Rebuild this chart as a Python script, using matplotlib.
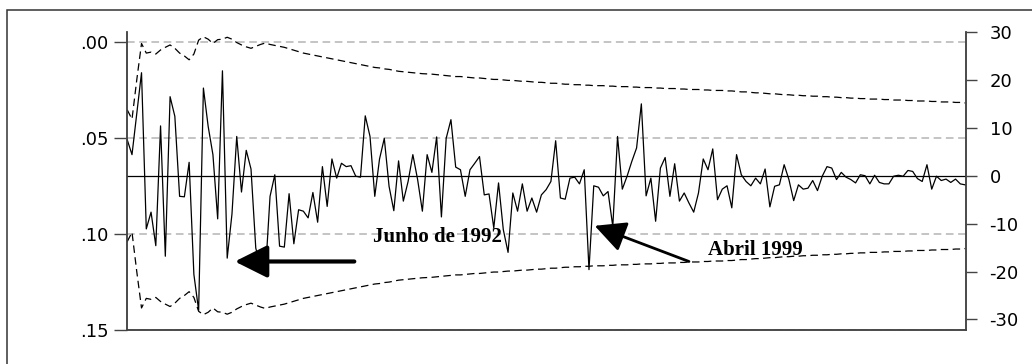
import matplotlib
matplotlib.use("Agg")
import matplotlib.pyplot as plt
from matplotlib.patches import Rectangle

# recursive residuals (right axis)
resid = [7.5, 4.4, 13.0, 21.5, -11.1, -7.6, -14.6, 10.4, -16.8, 16.5,
         12.4, -4.3, -4.4, 2.8, -20.6, -28.1, 18.3, 10.3, 4.4, -9.0,
         21.9, -17.2, -8.0, 8.2, -3.4, 5.3, 1.4, -15.1, -19.0, -20.8,
         -4.3, 0.2, -14.7, -14.9, -3.75, -14.2, -7.1, -7.4, -8.8, -3.5,
         -9.7, 1.9, -6.4, 3.5, -0.5, 2.6, 1.9, 2.1, -0.1, -0.3,
         12.5, 8.2, -4.3, 3.5, 7.8, -2.2, -7.3, 3.1, -5.3, -1.2,
         4.4, -0.8, -7.4, 4.4, 0.7, 8.1, -8.6, 7.8, 11.7, 1.8,
         1.25, -4.3, 1.25, 2.6, 4.0, -4.0, -3.8, -10.9, -1.5, -11.25,
         -16.0, -3.6, -7.4, -1.7, -7.4, -4.65, -7.6, -4.0, -2.9, -1.2,
         7.3, -4.65, -4.9, -0.5, -0.3, -1.7, 1.25, -19.6, -2.1, -2.4,
         -4.2, -3.3, -10.6, 8.2, -2.8, -0.1, 3.0, 5.8, 15.0, -4.2,
         -0.5, -9.5, 1.6, 3.8, -4.3, 2.5, -5.3, -3.6, -5.7, -7.6,
         -3.6, 3.5, 1.25, 5.6, -5.0, -2.8, -2.1, -6.7, 4.4, 0.2,
         -1.2, -2.1, -0.5, -1.7, 1.4, -6.5, -2.2, -1.9, 2.3, -0.8,
         -5.2, -1.9, -2.8, -2.6, -1.0, -3.1, -0.1, 1.9, 1.6, -0.8,
         0.7, -0.3, -0.8, -1.5, 0.2, 0.0, -1.7, 0.1, -1.4, -1.7,
         -1.7, -0.1, 0.1, -0.1, 1.1, 0.9, -0.6, -1.2, 2.3, -2.8,
         -0.1, -1.0, -0.7, -1.4, -0.7, -1.7, -1.9]

# +/- 2 S.E. band (upper side, lower is the mirror)
band = [13.75, 11.8, 20.0, 27.6, 25.6, 25.8, 25.4, 26.25, 26.8, 27.3,
        26.6, 25.6, 25.0, 24.2, 25.4, 28.3, 29.0, 28.5, 27.6, 28.4,
        28.5, 28.9, 28.5, 27.8, 27.3, 26.9, 26.6, 27.0, 27.4, 27.7,
        27.4, 27.2, 27.0, 26.8, 26.5, 26.2, 25.9, 25.6, 25.4, 25.2,
        25.0, 24.8, 24.6, 24.4, 24.2, 24.0, 23.8, 23.6, 23.4, 23.2,
        23.0, 22.8, 22.6, 22.5, 22.3, 22.2, 22.0, 21.8, 21.7, 21.6,
        21.5, 21.4, 21.3, 21.25, 21.2, 21.1, 21.0, 20.9, 20.8, 20.7,
        20.7, 20.6, 20.5, 20.4, 20.4, 20.3, 20.2, 20.1, 20.1, 20.0,
        19.9, 19.9, 19.8, 19.7, 19.7, 19.6, 19.5, 19.5, 19.4, 19.3,
        19.3, 19.2, 19.1, 19.1, 19.0, 19.0, 18.9, 18.9, 18.8, 18.8,
        18.8, 18.7, 18.7, 18.6, 18.6, 18.6, 18.5, 18.5, 18.4, 18.4,
        18.4, 18.3, 18.3, 18.2, 18.2, 18.2, 18.1, 18.1, 18.0, 18.0,
        18.0, 17.9, 17.9, 17.8, 17.8, 17.8, 17.7, 17.7, 17.6, 17.5,
        17.5, 17.4, 17.3, 17.3, 17.2, 17.1, 17.1, 17.0, 16.9, 16.9,
        16.8, 16.8, 16.7, 16.7, 16.6, 16.6, 16.5, 16.5, 16.4, 16.4,
        16.3, 16.3, 16.2, 16.2, 16.1, 16.1, 16.0, 16.0, 16.0, 15.9,
        15.9, 15.8, 15.8, 15.8, 15.7, 15.7, 15.6, 15.6, 15.6, 15.5,
        15.5, 15.4, 15.4, 15.4, 15.3, 15.3, 15.2]

left_ticks = [0.0, 0.05, 0.10, 0.15]
left_labels = [".00", ".05", ".10", ".15"]
right_ticks = [30, 20, 10, 0, -10, -20, -30]

n = len(resid)
x = list(range(n))
upper = [b for b in band]
lower = [-b for b in band]

spine_col = "#444444"

fig = plt.figure(figsize=(10.32, 3.64), dpi=100)
ax = fig.add_axes([127 / 1032, 34 / 364, 839 / 1032, 298 / 364])
ax2 = ax.twinx()

# left axis: only labels and the dashed grid
ax.set_ylim(0.15025, -0.00525)
ax.set_yticks(left_ticks)
ax.set_yticklabels(left_labels)
ax.grid(axis="y", color="#b4b4b4", linestyle=(0, (5, 3)), linewidth=1.1)
ax.set_xticks([])
ax.tick_params(axis="y", length=9.5, width=1.0, color=spine_col, pad=4, labelsize=13)

# right axis: the series
ax2.plot(x, resid, color="black", linewidth=0.9)
ax2.plot(x, upper, color="black", linewidth=0.9, linestyle=(0, (6, 3.5)))
ax2.plot(x, lower, color="black", linewidth=0.9, linestyle=(0, (6, 3.5)))
ax2.axhline(0, color="black", linewidth=0.9)
ax2.set_ylim(-32.2, 30.0)
ax2.set_yticks(right_ticks)
ax2.set_yticklabels([str(t) for t in right_ticks])
ax2.tick_params(axis="y", length=8, width=1.0, color=spine_col, pad=9, labelsize=13)
ax2.set_xlim(-0.05, n - 1 + 0.2)
ax.set_xlim(-0.05, n - 1 + 0.2)

for a in (ax, ax2):
    a.spines["top"].set_visible(False)
    for s in ("left", "right", "bottom"):
        a.spines[s].set_color(spine_col)
        a.spines[s].set_linewidth(1.1)

# annotations
ax2.annotate("", xy=(22.6, -17.9), xytext=(47.7, -17.9),
             arrowprops=dict(arrowstyle="-|>,head_length=20,head_width=10",
                             mutation_scale=1, color="black", lw=3,
                             shrinkA=0, shrinkB=0))
ax2.annotate("", xy=(98.2, -10.45), xytext=(118.0, -17.9),
             arrowprops=dict(arrowstyle="-|>,head_length=19,head_width=9.5",
                             mutation_scale=1, color="black", lw=2,
                             shrinkA=0, shrinkB=0))
ax2.text(51.7, -13.86, "Junho de 1992", family="Liberation Serif",
         fontweight="bold", fontsize=15, va="baseline", ha="left")
ax2.text(122.1, -16.5, "Abril 1999", family="Liberation Serif",
         fontweight="bold", fontsize=15, va="baseline", ha="left")

# frame around the whole graph (cut at the right and bottom edges)
fig.patches.append(Rectangle((7 / 1032, -0.2), 2, 1.2 - 10 / 364,
                             transform=fig.transFigure, fill=False,
                             edgecolor="#333333", linewidth=1.1))

fig.savefig("out.png", dpi=100)
